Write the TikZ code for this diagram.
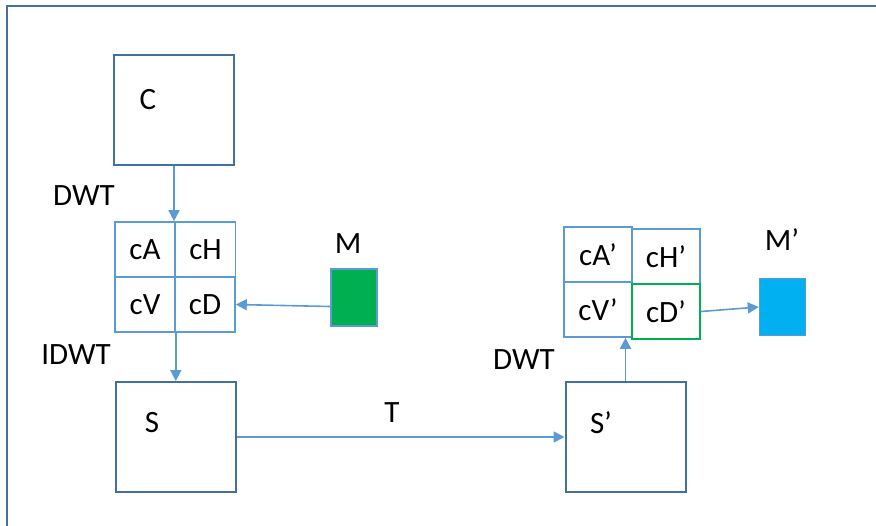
\documentclass[tikz,border=0pt]{standalone}
\usepackage{fontspec}
\setmainfont{Carlito}
\usetikzlibrary{arrows.meta}
\newlength{\du}
\setlength{\du}{0.5pt}
\definecolor{boxline}{RGB}{65,113,156}
\definecolor{gridline}{RGB}{91,155,213}
\definecolor{markgreen}{RGB}{0,176,80}
\definecolor{markblue}{RGB}{0,176,240}
\tikzset{
  lbl/.style={inner sep=0pt, font=\fontsize{15.5}{18}\selectfont},
  bigbox/.style={draw=boxline, line width=2\du, fill=white, inner sep=0pt,
    minimum width=120\du, minimum height=110\du},
  cell/.style={lbl, draw=gridline, line width=1.6\du, minimum height=55\du},
  markbox/.style={draw=gridline, line width=1.5\du, inner sep=0pt,
    minimum width=46\du, minimum height=57\du},
  flow/.style={draw=gridline, line width=1.6\du, -{Triangle[length=5.5pt,width=5.5pt]}},
  frame/.style={draw=boxline, line width=2\du}
}
\begin{document}
\begin{tikzpicture}
\pgftransformxscale{1.000000}
\pgftransformyscale{-1.000000}
\useasboundingbox (0\du,0\du) rectangle (876\du,525\du);
\draw[frame] (7\du,540\du)--(7\du,6\du)--(890\du,6\du);
% source image and its wavelet split
\node[bigbox] (C) at (174\du,110\du){};
\node[lbl] (Clabel) at (148\du,100\du){C};
\node[cell, minimum width=60\du] (cA) at (145\du,249.5\du){cA};
\node[cell, minimum width=60\du] (cH) at (205.5\du,249.5\du){cH};
\node[cell, minimum width=60\du] (cV) at (145\du,304.5\du){cV};
\node[cell, minimum width=60\du] (cD) at (205\du,304.5\du){cD};
\node[markbox, fill=markgreen] (M) at (354\du,297.5\du){};
\node[lbl] (Mlabel) at (348\du,244\du){M};
\node[lbl] (dwtA) at (84\du,196\du){DWT};
\node[lbl] (idwt) at (76\du,355\du){IDWT};
% stego image and its wavelet split
\node[bigbox] (S) at (176\du,437\du){};
\node[lbl] (Slabel) at (152\du,423\du){S};
\node[bigbox] (Sp) at (625.5\du,437\du){};
\node[lbl] (Splabel) at (601\du,423\du){S’};
\node[lbl] (Tlabel) at (392\du,413\du){T};
\node[lbl] (dwtB) at (524\du,360\du){DWT};
\node[cell, minimum width=68\du] (cAp) at (598\du,254.5\du){cA’};
\node[cell, minimum width=68\du] (cHp) at (666\du,256.5\du){cH’};
\node[cell, minimum width=68\du] (cVp) at (598\du,309.5\du){cV’};
\node[cell, minimum width=68\du, draw=markgreen] (cDp) at (666\du,311.5\du){cD’};
\node[markbox, fill=markblue] (Mp) at (782.5\du,307\du){};
\node[lbl] (Mplabel) at (782\du,240\du){M’};
% connectors
\draw[flow] (C.south)--(C.south |- cA.north);
\draw[flow] ([yshift=9\du]M.west)--(cD.east);
\draw[flow] (cV.south east)--(cV.south east |- S.north);
\draw[flow] (S.east)--(Sp.west);
\draw[flow] (Sp.north)--(Sp.north |- cVp.south);
\draw[flow] (cDp.east)--(Mp.west);
\end{tikzpicture}
\end{document}
